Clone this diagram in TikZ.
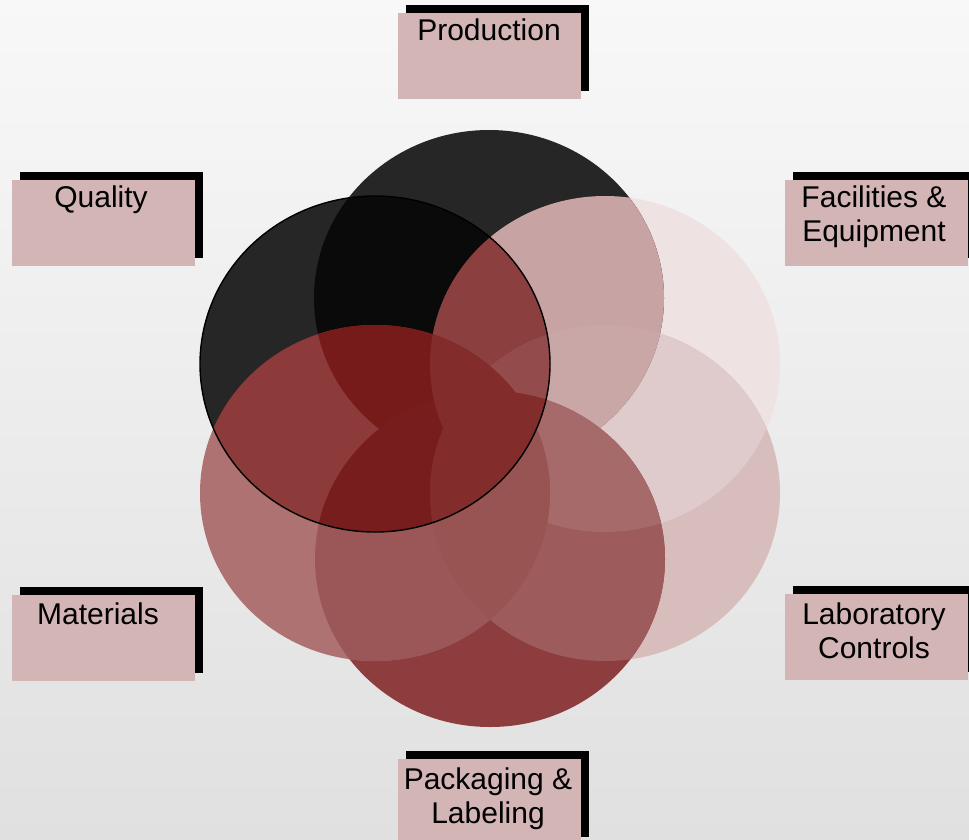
\documentclass[tikz,border=0pt]{standalone}
\usepackage{fontspec}
\setmainfont{Liberation Sans}
\usetikzlibrary{shadows}

% fills of the overlapping discs
\definecolor{bgtop}{HTML}{F8F8F8}
\definecolor{bgmid}{HTML}{F0F0F0}
\definecolor{bgbot}{HTML}{E0E0E0}
\definecolor{boxpink}{HTML}{D3B5B5}
\definecolor{facOnly}{HTML}{EEE2E2}
\definecolor{labOnly}{HTML}{D8BDBD}
\definecolor{labFac}{HTML}{DFCBCB}
\definecolor{prodOnly}{HTML}{262626}
\definecolor{prodFac}{HTML}{C8A3A3}
\definecolor{prodFacLab}{HTML}{C9A7A7}
\definecolor{packOnly}{HTML}{8D3D3D}
\definecolor{packLab}{HTML}{9D5B5B}
\definecolor{packLabFac}{HTML}{A76A6A}
\definecolor{matOnly}{HTML}{AE7272}
\definecolor{matPack}{HTML}{9B5757}
\definecolor{matPackLab}{HTML}{985353}
\definecolor{qualOnly}{HTML}{262626}
\definecolor{qualProd}{HTML}{0A0A0A}
\definecolor{qualFac}{HTML}{8B3F3F}
\definecolor{qualFacLab}{HTML}{934B4B}
\definecolor{qualMat}{HTML}{8C3A3A}
\definecolor{qualMatProd}{HTML}{761A1A}
\definecolor{qualPack}{HTML}{7D2525}
\definecolor{qualMatPack}{HTML}{781D1D}
\definecolor{qualCore}{HTML}{822C2C}

% the six discs
\def\ellT{(489,298) ellipse (175pt and 168pt)}
\def\ellF{(605,364) ellipse (175pt and 168pt)}
\def\ellL{(605,493) ellipse (175pt and 168pt)}
\def\ellP{(490,559) ellipse (175pt and 168pt)}
\def\ellM{(375,493) ellipse (175pt and 168pt)}
\def\ellQ{(375,364) ellipse (175pt and 168pt)}

\begin{document}
\begin{tikzpicture}[x=1pt,y=-1pt,
  tagbox/.style={fill=boxpink, minimum width=183pt, minimum height=86pt,
    inner sep=0pt, outer sep=0pt,
    drop shadow={shadow xshift=8pt, shadow yshift=8pt, fill=black, opacity=1}},
  tagtext/.style={anchor=north, inner sep=0pt, align=center,
    font=\fontsize{30}{34}\selectfont}]

\useasboundingbox (0,0) rectangle (969,839);
\shade[top color=bgtop, middle color=bgmid, bottom color=bgbot]
  (0,0) rectangle (969,839);

% Facilities & Equipment, Laboratory Controls
\fill[facOnly] \ellF;
\fill[labOnly] \ellL;
\begin{scope}\clip \ellF; \fill[labFac] \ellL; \end{scope}

% Production
\fill[prodOnly] \ellT;
\begin{scope}\clip \ellT; \fill[prodFac] \ellF; \end{scope}
\begin{scope}\clip \ellT; \clip \ellF; \fill[prodFacLab] \ellL; \end{scope}

% Packaging & Labeling
\fill[packOnly] \ellP;
\begin{scope}\clip \ellP; \fill[packLab] \ellL; \end{scope}
\begin{scope}\clip \ellP; \clip \ellL; \fill[packLabFac] \ellF; \end{scope}

% Materials
\fill[matOnly] \ellM;
\begin{scope}\clip \ellM; \fill[matPack] \ellP; \end{scope}
\begin{scope}\clip \ellM; \clip \ellP; \fill[matPackLab] \ellL; \end{scope}

% Quality, on top
\fill[qualOnly] \ellQ;
\begin{scope}\clip \ellQ; \fill[qualProd] \ellT; \end{scope}
\begin{scope}\clip \ellQ; \fill[qualFac] \ellF; \end{scope}
\begin{scope}\clip \ellQ; \clip \ellF; \fill[qualFacLab] \ellL; \end{scope}
\begin{scope}\clip \ellQ; \fill[qualMat] \ellM; \end{scope}
\begin{scope}\clip \ellQ; \clip \ellM; \fill[qualMatProd] \ellT; \end{scope}
\begin{scope}\clip \ellQ; \fill[qualPack] \ellP; \end{scope}
\begin{scope}\clip \ellQ; \clip \ellM; \fill[qualMatPack] \ellP; \end{scope}
\begin{scope}\clip \ellQ; \clip \ellF; \fill[qualCore] \ellM; \fill[qualCore] \ellP; \end{scope}
\begin{scope}\clip \ellQ; \clip \ellL; \fill[qualCore] \ellM; \fill[qualCore] \ellP; \end{scope}
\draw[black, line width=1.4pt] \ellQ;

% label boxes
\node[tagbox] (prodbox) at (489.5,56) {};
\node[tagbox] (qualbox) at (103,223) {};
\node[tagbox] (facbox)  at (876.5,222.5) {};
\node[tagbox] (matbox)  at (103,637.5) {};
\node[tagbox] (labbox)  at (876.5,637) {};
\node[tagbox] (packbox) at (489.5,802) {};

\node[tagtext] (prodtext) at (489,19)  {Production};
\node[tagtext] (qualtext) at (101,186) {Quality};
\node[tagtext] (factext)  at (874,186) {Facilities \&\\Equipment};
\node[tagtext] (mattext)  at (98,603)  {Materials};
\node[tagtext] (labtext)  at (874,603) {Laboratory\\Controls};
\node[tagtext] (packtext) at (488,768) {Packaging \&\\Labeling};
\end{tikzpicture}
\end{document}
